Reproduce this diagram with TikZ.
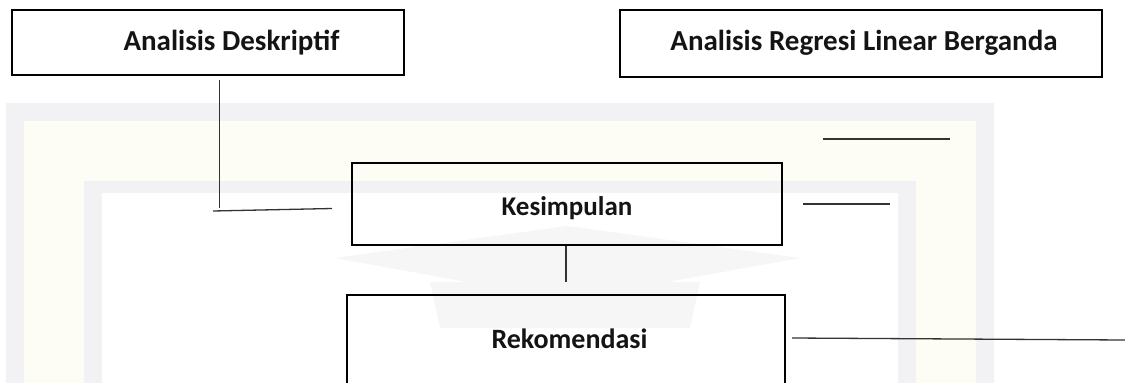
\documentclass[tikz,border=0pt]{standalone}
\usepackage{fontspec}
\setmainfont{Carlito}
\definecolor{bandgray}{HTML}{F2F2F4}
\definecolor{bandcream}{HTML}{FEFDF5}
\definecolor{capgray}{HTML}{F6F6F7}
\definecolor{linegray}{HTML}{333333}
\tikzset{
  box/.style={draw=black, line width=2pt, inner sep=0pt},
  lbl/.style={font=\bfseries, text=black!92, inner sep=0pt, anchor=base},
  wire/.style={draw=linegray, line width=1.3pt},
}
\begin{document}
\begin{tikzpicture}[x=1pt,y=-1pt]
\useasboundingbox (0,0) rectangle (1125,383);
\fill[white] (0,0) rectangle (1125,383);

% background frame bands
\fill[bandgray]  (6,103)   rectangle (994,383);
\fill[bandcream] (24,121)  rectangle (976,383);
\fill[bandgray]  (84,181)  rectangle (916,383);
\fill[white]     (102,193) rectangle (898,383);

% faint mortarboard emblem
\fill[capgray] (335,258) -- (567,226) -- (800,258) -- (567,300) -- cycle;
\fill[capgray] (430,282) -- (700,282) -- (690,328) -- (440,328) -- cycle;

% boxes
\node[box, minimum width=392pt, minimum height=65pt] (desk) at (208,42.5) {};
\node[box, minimum width=482pt, minimum height=67pt] (regr) at (861,43.5) {};
\node[box, minimum width=430pt, minimum height=82pt] (kes)  at (567,204) {};
\node[box, minimum width=438pt, minimum height=100pt] (rek) at (566,345) {};

% labels
\node[lbl, font=\fontsize{29}{34}\selectfont\bfseries] (tdesk) at (231.5,50) {Analisis Deskriptif};
\node[lbl, font=\fontsize{29}{34}\selectfont\bfseries] (tregr) at (864,50.5) {Analisis Regresi Linear Berganda};
\node[lbl, font=\fontsize{27}{32}\selectfont\bfseries] (tkes)  at (567,215) {Kesimpulan};
\node[lbl, font=\fontsize{28}{33}\selectfont\bfseries] (trek)  at (569.5,348) {Rekomendasi};

% loose connector ends
\coordinate (dA) at (219.5,80);
\coordinate (dB) at (219.5,208);
\coordinate (hA) at (213,211);
\coordinate (hB) at (332,208.5);
\coordinate (kB) at (566,282);
\coordinate (r1a) at (823,139);
\coordinate (r1b) at (950,139);
\coordinate (r2a) at (803,204);
\coordinate (r2b) at (890,204);
\coordinate (r3a) at (792,338);
\coordinate (r3b) at (1125,340);

\draw[wire] (dA) -- (dB);
\draw[wire] (hA) -- (hB);
\draw[wire] (kes.south) ++(-1,0) coordinate (kesout) (kesout) -- (kB);
\draw[wire] (r1a) -- (r1b);
\draw[wire] (r2a) -- (r2b);
\draw[wire] (r3a) -- (r3b);
\end{tikzpicture}
\end{document}
